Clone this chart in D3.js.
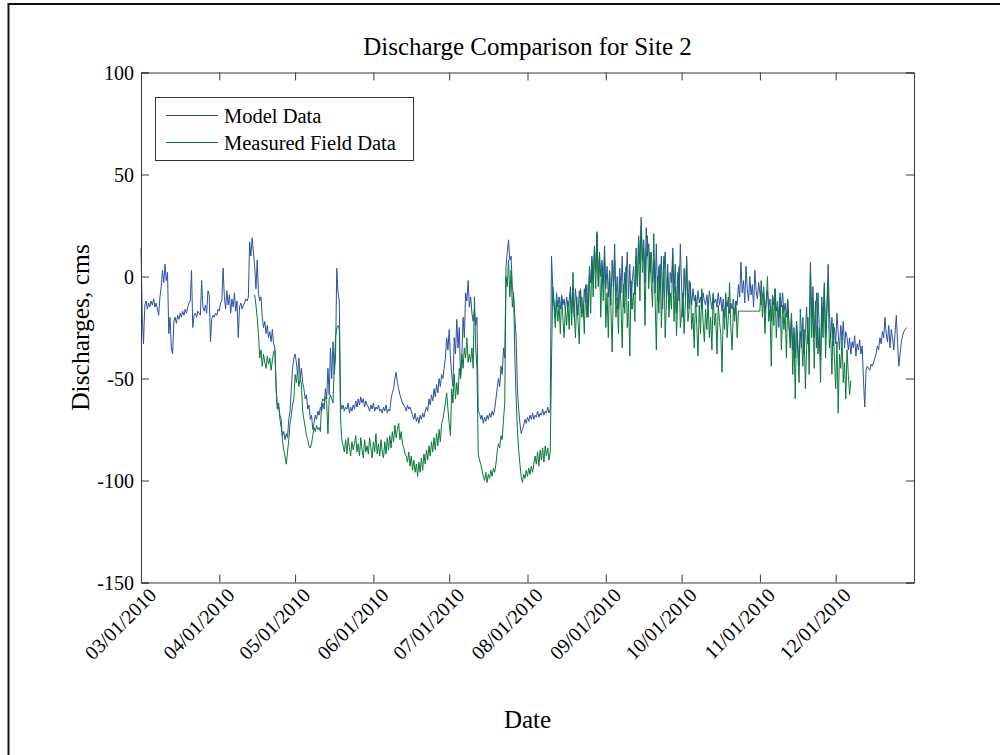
<!DOCTYPE html>
<html>
<head>
<meta charset="utf-8">
<script src="https://cdn.jsdelivr.net/npm/d3@7"></script>
<style>
  html, body { margin: 0; padding: 0; background: #fff; }
  svg { display: block; }
  text { font-family: "Liberation Serif", "Times New Roman", serif; fill: #000; }
</style>
</head>
<body>
<svg id="chart" width="1000" height="755"></svg>
<script>
"use strict";

const modelStart = "2010-03-01T00:00:00Z";
const measuredStart = "2010-04-15T00:00:00Z";
const stepHours = 12;

const modelValues = [
  14, -20, -33, -14, -12, -16, -13, -15, -12, -14,
  -11, -15, -13, -16, -19, -10, -5, 3, -3, 6,
  -2, 2, -28, -20, -35, -38, -22, -20, -23, -19,
  -21, -18, -20, -17, -19, -16, -18, -15, -13, -12,
  3, -25, -19, -18, -20, -17, -18, -19, -2, -15,
  -17, -14, -18, -7, -9, -32, -21, -19, -20, -18,
  -19, -16, -17, -13, -12, 4, -10, -16, -7, -14,
  -9, -18, -11, -15, -8, -17, -12, -30, -15, -13,
  -16, -14, -13, -11, -12, -10, 17, 10, 19, 12,
  5, -6, 8, -8, -12, -10, -20, -25, -22, -28,
  -24, -30, -27, -32, -26, -33, -35, -55, -65, -62,
  -70, -74, -78, -76, -80, -77, -79, -70, -66, -55,
  -45, -40, -38, -42, -48, -40, -50, -45, -52, -55,
  -60, -58, -65, -63, -70, -68, -75, -72, -68, -70,
  -66, -68, -64, -66, -62, -65, -55, -60, -45, -58,
  -35, -50, -32, -48, -40, 4, -8, -12, -62, -65,
  -63, -66, -64, -65, -62, -67, -64, -66, -63, -65,
  -61, -64, -60, -63, -59, -62, -60, -64, -61, -63,
  -64, -66, -63, -65, -62, -66, -64, -65, -63, -66,
  -65, -67, -64, -66, -63, -67, -65, -66, -60, -57,
  -55, -50, -47, -52, -55, -58, -60, -62, -63, -64,
  -66, -63, -65, -64, -66, -68, -70, -67, -71, -69,
  -72, -68, -70, -67, -69, -66, -64, -66, -60, -63,
  -58, -61, -55, -59, -53, -57, -50, -54, -48, -50,
  -45, -40, -30, -36, -26, -40, -48, -54, -30, -38,
  -21, -35, -25, -50, -40, -20, -30, -8, -12, -2,
  -15, -10, -18, -22, -16, -24, -20, -66, -67, -70,
  -68, -72, -69, -71, -68, -70, -67, -69, -66, -68,
  -65, -60, -55, -50, -54, -44, -48, -35, -40, 5,
  12, 18, 8, 10, -5, -10, -20, -30, -55, -65,
  -72, -77, -75, -73, -70, -72, -69, -71, -68, -70,
  -67, -70, -68, -69, -66, -69, -67, -68, -65, -68,
  -66, -67, -64, -67, -65, 10, -5, -12, -20, -8,
  -15, -10, -16, -9, -14, -11, -17, -10, -15, -12,
  -5, -18, -8, -20, -6, -14, -19, -7, -15, -10,
  -18, -6, -13, -4, -20, 5, -3, 10, -2, 14,
  2, 22, -5, 12, 0, 8, -4, 15, -6, 5,
  -10, 3, -14, 8, -5, 16, -12, 0, -16, 4,
  -8, 10, -15, 2, -3, 12, -11, 6, -16, -2,
  5, -9, 14, -4, 20, 6, 29, 8, 18, -3,
  24, 10, 16, 2, 12, -3, 8, -8, 16, -12,
  5, -6, 10, -16, 3, 12, -10, 6, -14, 2,
  -3, 14, -8, 6, -18, 2, -12, 16, -5, -20,
  4, -10, 10, -16, -2, -8, -14, -6, -12, -9,
  -15, -7, -13, -10, -16, -8, -12, -14, -9, -15,
  -7, -12, -16, -9, -13, -11, -15, -8, -14, -10,
  -17, -11, -20, -12, -15, -10, -18, -13, -16, -11,
  -19, -12, -14, -4, -10, 7, -8, -2, -13, 5,
  -6, -12, 0, -9, -4, -15, 3, -7, -11, -3,
  -8, -14, -10, -5, -18, -12, -7, -16, -11, -22,
  -9, -14, -6, -17, -12, -25, -10, -15, -8, -18,
  -13, -20, -11, -24, -30, -18, -36, -25, -40, -22,
  -32, -44, -27, -35, -20, -38, -28, -15, -33, -26,
  7, -20, -5, -30, -12, -35, -8, -25, -41, -10,
  -22, -3, -30, -15, 6, -18, -30, -20, -34, -25,
  -33, -18, -28, -36, -24, -31, -22, -35, -27, -30,
  -36, -30, -38, -32, -35, -29, -39, -33, -36, -31,
  -38, -34, -51, -64, -46, -44, -45, -46, -43, -44,
  -42, -40, -38, -34, -36, -30, -33, -27, -30, -20,
  -28, -32, -24, -35, -26, -30, -36, -28, -19, -33,
  -44, -38, -32, -29, -27, -26, -25
];

const measuredValues = [
  -9, -14, -20, -28, -40, -36, -44, -38, -42, -45,
  -39, -43, -40, -46, -41, -37, -36, -55, -65, -64,
  -68, -70, -80, -85, -88, -92, -86, -80, -72, -68,
  -63, -60, -48, -52, -46, -54, -50, -53, -66, -70,
  -74, -78, -80, -83, -84, -82, -78, -74, -76, -73,
  -75, -74, -76, -62, -60, -61, -59, -62, -77, -60,
  -58, -60, -62, -45, -30, -25, -24, -26, -70, -80,
  -83, -86, -80, -87, -79, -84, -88, -81, -85, -82,
  -78, -86, -82, -88, -79, -85, -89, -80, -86, -83,
  -87, -79, -84, -89, -81, -86, -77, -87, -82, -88,
  -80, -86, -89, -81, -87, -79, -85, -78, -84, -76,
  -81, -73, -79, -75, -72, -80, -76, -82, -84, -87,
  -88, -91, -86, -93, -88, -95, -90, -96, -92, -98,
  -91, -96, -89, -95, -87, -92, -85, -90, -83, -88,
  -81, -86, -79, -85, -77, -83, -75, -81, -72, -70,
  -66, -62, -57, -65, -72, -78, -55, -62, -48, -60,
  -52, -58, -45, -50, -38, -45, -35, -40, -30, -42,
  -38, -42, -35, -45, -10, -35, -45, -87, -90, -92,
  -95, -98, -100, -96, -101, -97, -99, -95, -98, -94,
  -96, -92, -86, -82, -84, -78, -80, -70, -62, 0,
  -5, 8, -10, 3, -15, -8, -40, -60, -75, -85,
  -92, -98, -101, -97, -99, -95, -98, -94, -97, -93,
  -96, -92, -88, -92, -86, -93, -85, -90, -84, -91,
  -83, -88, -84, -90, -86, -42, -5, -15, -25, -12,
  -22, -14, -28, -10, -20, -30, -16, -24, -12, -26,
  -8, -24, 2, -18, -30, -10, -22, -33, -6, -20,
  -14, -28, -4, -20, -12, 0, -18, 8, -10, 15,
  -6, 21, -2, 10, -20, 5, -12, 10, -25, -8,
  -30, 2, -15, -37, -5, 8, -20, -10, -28, 0,
  -14, -35, -4, -18, 5, -25, -12, -39, -2, -16,
  -8, -22, 10, -5, 18, -12, 25, 2, 14, -24,
  8, 20, -6, 12, -3, -15, 21, -10, -36, 0,
  -18, 6, -25, -5, 10, -30, -12, 2, -20, -8,
  -16, 11, -22, -5, -29, -10, 5, -25, -18, -8,
  -28, -12, 8, -22, -16, -3, -26, -18, -35, -10,
  -24, -39, -14, -28, -6, -22, -32, -16, -26, -12,
  -30, -20, -36, -8, -24, -18, -38, -14, -22, -28,
  -47, -16, -26, -8, -30, -20, -3, -25, -36, -15,
  -22, -12, -30, -17, -17, -17, -17, -17, -17, -17,
  -17, -17, -17, -17, -17, -17, -17, -17, -17, -17,
  -17, -2, -20, -8, -28, -12, 0, -22, -16, -44,
  -10, -24, -6, -30, -15, -20, -8, -36, -14, -26,
  -18, -40, -12, -24, -35, -20, -48, -28, -60, -22,
  -38, -52, -16, -30, -44, -26, -55, -36, -20, -48,
  2, -30, -12, -45, -20, -8, -38, -25, -52, -15,
  -30, -5, -40, -18, -3, -35, -28, -48, -23, -40,
  -55, -32, -67, -38, -45, -30, -52, -42, -60, -36,
  -48, -58, -51
];

const xDomain = ["2010-03-01", "2011-01-01"];
const xTickDates = ["2010-03-01", "2010-04-01", "2010-05-01", "2010-06-01", "2010-07-01",
                    "2010-08-01", "2010-09-01", "2010-10-01", "2010-11-01", "2010-12-01"];
const yTicks = [100, 50, 0, -50, -100, -150];
const seriesNames = ["Model Data", "Measured Field Data"];
const seriesColors = ["#2b50a6", "#08783a"];

const svg = d3.select("#chart"),
    plot = { left: 141, right: 914, top: 72.5, bottom: 582.5 };

const x = d3.scaleUtc()
    .domain(xDomain.map((d) => new Date(d + "T00:00:00Z")))
    .range([plot.left, plot.right]);
const y = d3.scaleLinear()
    .domain([-150, 100])
    .range([plot.bottom, plot.top]);

const toPoints = (start, values) => {
  const t0 = new Date(start).getTime();
  return values.map((v, i) => ({ date: new Date(t0 + i * stepHours * 3600e3), value: v }));
};
const series = [toPoints(modelStart, modelValues), toPoints(measuredStart, measuredValues)];

// Figure frame (only left and top edges are visible in the capture).
svg.append("path")
    .attr("d", "M8.5,755 L8.5,4 L1000,4")
    .attr("fill", "none")
    .attr("stroke", "#111")
    .attr("stroke-width", 2);

// Data lines.
const line = d3.line()
    .x((d) => x(d.date))
    .y((d) => y(d.value));

svg.append("g")
    .selectAll("path")
    .data(series)
    .enter().append("path")
    .attr("d", line)
    .attr("fill", "none")
    .attr("stroke", (d, i) => seriesColors[i])
    .attr("stroke-width", 1)
    .attr("stroke-linejoin", "round");

// Axes box with inward ticks on all four sides.
const tickLen = 8;
const xAxisBottom = d3.axisBottom(x)
    .tickValues(xTickDates.map((d) => new Date(d + "T00:00:00Z")))
    .tickSize(-tickLen)
    .tickFormat(d3.utcFormat("%m/%d/%Y"));
const xAxisTop = d3.axisTop(x)
    .tickValues(xTickDates.map((d) => new Date(d + "T00:00:00Z")))
    .tickSize(-tickLen)
    .tickFormat("");
const yAxisLeft = d3.axisLeft(y)
    .tickValues(yTicks)
    .tickSize(-tickLen)
    .tickFormat((d) => String(d));
const yAxisRight = d3.axisRight(y)
    .tickValues(yTicks)
    .tickSize(-tickLen)
    .tickFormat("");

const styleAxis = (g) => {
  g.selectAll(".domain").attr("stroke", "#3a3a3a");
  g.selectAll(".tick line").attr("stroke", "#3a3a3a");
  g.selectAll("text")
      .style("font-family", "'Liberation Serif', 'Times New Roman', serif")
      .style("font-size", "20px")
      .attr("fill", "#000");
};

svg.append("g")
    .attr("transform", "translate(0," + plot.bottom + ")")
    .call(xAxisBottom)
    .call(styleAxis)
    .call((g) => g.selectAll(".tick text")
        .attr("text-anchor", "end")
        .attr("dy", null)
        .attr("y", null)
        .attr("transform", "translate(16,14) rotate(-45)"));

svg.append("g")
    .attr("transform", "translate(0," + plot.top + ")")
    .call(xAxisTop)
    .call(styleAxis);

svg.append("g")
    .attr("transform", "translate(" + plot.left + ",0)")
    .call(yAxisLeft)
    .call(styleAxis)
    .call((g) => g.selectAll(".tick text")
        .attr("x", -7)
        .attr("dy", "0.33em"));

svg.append("g")
    .attr("transform", "translate(" + plot.right + ",0)")
    .call(yAxisRight)
    .call(styleAxis);

// Titles.
svg.append("text")
    .attr("x", (plot.left + plot.right) / 2)
    .attr("y", 55)
    .attr("text-anchor", "middle")
    .style("font-size", "25px")
    .text("Discharge Comparison for Site 2");

svg.append("text")
    .attr("x", (plot.left + plot.right) / 2)
    .attr("y", 728)
    .attr("text-anchor", "middle")
    .style("font-size", "25px")
    .text("Date");

svg.append("text")
    .attr("transform", "translate(89," + (plot.top + plot.bottom) / 2 + ") rotate(-90)")
    .attr("text-anchor", "middle")
    .style("font-size", "25.5px")
    .text("Discharges, cms");

// Legend.
const legend = svg.append("g");
legend.append("rect")
    .attr("x", 155.5)
    .attr("y", 97.5)
    .attr("width", 258)
    .attr("height", 63)
    .attr("fill", "#fff")
    .attr("stroke", "#333");

const legendItem = legend.selectAll("g")
    .data(seriesNames)
    .enter().append("g")
    .attr("transform", (d, i) => "translate(166," + (115.5 + i * 27) + ")");

legendItem.append("line")
    .attr("x1", 0)
    .attr("x2", 52)
    .attr("stroke", (d, i) => seriesColors[i])
    .attr("stroke-width", 1);

legendItem.append("text")
    .attr("x", 58)
    .attr("y", 7)
    .style("font-size", "20.5px")
    .text((d) => d);
</script>
</body>
</html>
